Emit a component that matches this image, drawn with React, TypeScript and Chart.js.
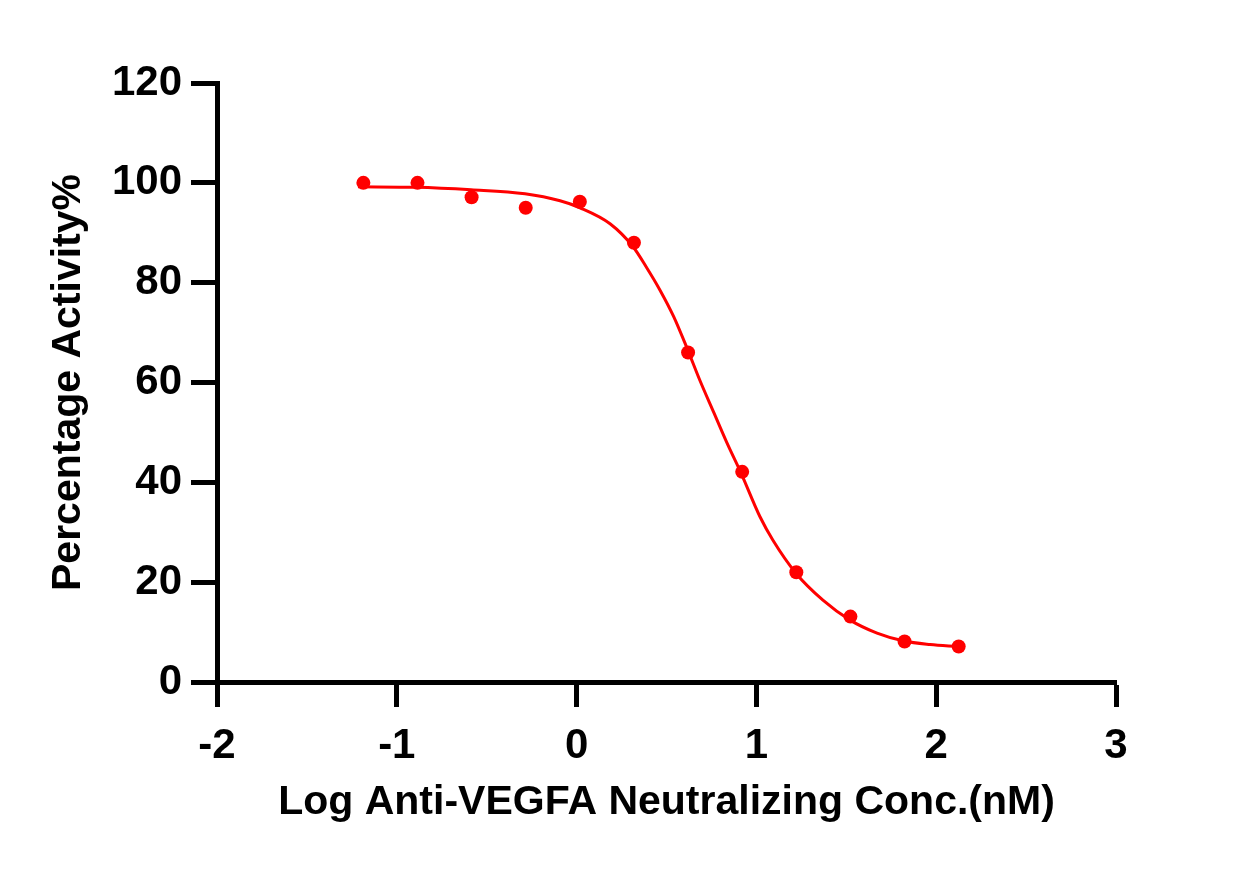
import React, { useEffect, useRef } from "react";
import { Chart, registerables } from "chart.js";

Chart.register(...registerables);

// Measured data points (log concentration, % activity)
const logConc = [-1.186, -0.885, -0.584, -0.283, 0.018, 0.319, 0.62, 0.921, 1.222, 1.523, 1.824, 2.125];
const activity = [100, 100, 97.1, 95.0, 96.2, 88.0, 66.0, 42.1, 22.0, 13.1, 8.1, 7.1];

// Fitted curve
const curveX = [-1.216, -0.893, -0.587, -0.287, -0.092, 0.019, 0.186, 0.314, 0.39, 0.464, 0.54, 0.614, 0.686, 0.764, 0.835, 0.914, 1.02, 1.092, 1.22, 1.37, 1.521, 1.671, 1.821, 1.966, 2.121];
const curveY = [99.2, 99.1, 98.6, 97.8, 96.4, 95.0, 91.8, 87.2, 83.0, 78.5, 73.2, 66.9, 60.4, 53.9, 48.0, 41.9, 33.1, 28.4, 21.8, 16.4, 12.4, 9.8, 8.2, 7.5, 7.1];

const xTicks = [-2, -1, 0, 1, 2, 3];
const xTickLabels = ["-2", "-1", "0", "1", "2", "3"];
const yTicks = [0, 20, 40, 60, 80, 100, 120];
const yTickLabels = ["0", "20", "40", "60", "80", "100", "120"];

const xTitle = "Log Anti-VEGFA Neutralizing Conc.(nM)";
const yTitle = "Percentage Activity%";

const RED = "#ff0000";
const FONT = "'Liberation Sans', Arial, Helvetica, sans-serif";

export default function App() {
  const ref = useRef<HTMLCanvasElement | null>(null);

  useEffect(() => {
    if (!ref.current) return;
    const chart = new Chart(ref.current, {
      type: "line",
      data: {
        datasets: [
          {
            label: "points",
            data: logConc.map((x, i) => ({ x, y: activity[i] })),
            showLine: false,
            pointRadius: 7,
            pointBorderWidth: 0,
            pointBackgroundColor: RED,
            borderColor: RED,
            order: 0,
          },
          {
            label: "fit",
            data: curveX.map((x, i) => ({ x, y: curveY[i] })),
            borderColor: RED,
            borderWidth: 3,
            pointRadius: 0,
            cubicInterpolationMode: "monotone",
            fill: false,
            order: 1,
          },
        ],
      },
      options: {
        animation: false,
        responsive: false,
        events: [],
        layout: { padding: { top: 83, right: 143, left: 0, bottom: 0 } },
        plugins: { legend: { display: false }, tooltip: { enabled: false } },
        scales: {
          x: {
            type: "linear",
            min: -2,
            max: 3,
            afterFit: (s: any) => { s.height = 194; },
            afterBuildTicks: (s: any) => { s.ticks = xTicks.map((v) => ({ value: v })); },
            ticks: {
              color: "#000",
              padding: 14,
              font: { family: FONT, size: 42, weight: "bold" },
              callback: (v: any) => { const i = xTicks.indexOf(Number(v)); return i >= 0 ? xTickLabels[i] : ""; },
              maxRotation: 0,
            },
            grid: { drawOnChartArea: false, drawTicks: true, tickLength: 25, tickWidth: 5, tickColor: "#000" },
            border: { display: true, width: 5, color: "#000" },
            title: {
              display: true,
              text: xTitle,
              color: "#000",
              font: { family: FONT, size: 41, weight: "bold" },
              padding: { top: 0, bottom: 49 },
            },
          },
          y: {
            type: "linear",
            min: 0,
            max: 120,
            afterFit: (s: any) => { s.width = 217; },
            afterBuildTicks: (s: any) => { s.ticks = yTicks.map((v) => ({ value: v })); },
            ticks: {
              color: "#000",
              padding: 9,
              font: { family: FONT, size: 42, weight: "bold" },
              callback: (v: any) => { const i = yTicks.indexOf(Number(v)); return i >= 0 ? yTickLabels[i] : ""; },
            },
            grid: { drawOnChartArea: false, drawTicks: true, tickLength: 26, tickWidth: 5, tickColor: "#000" },
            border: { display: true, width: 5, color: "#000" },
            title: {
              display: true,
              text: yTitle,
              color: "#000",
              font: { family: FONT, size: 41, weight: "bold" },
              padding: { top: 44, bottom: 0 },
            },
          },
        },
      },
    });
    return () => chart.destroy();
  }, []);

  return (
    <div style={{ position: "absolute", left: 0, top: 0, width: 1259, height: 876, background: "#fff" }}>
      <canvas ref={ref} width={1259} height={876} style={{ display: "block" }} />
    </div>
  );
}
